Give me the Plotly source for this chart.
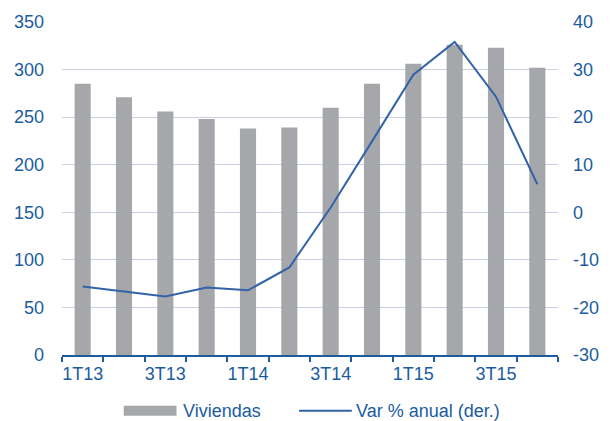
import plotly.graph_objects as go

# Quarterly housing data
quarters = ["1T13", "2T13", "3T13", "4T13", "1T14", "2T14", "3T14", "4T14",
            "1T15", "2T15", "3T15", "4T15"]
viviendas = [285, 271, 256, 248, 238, 239, 260, 285, 306, 326, 323, 302]
var_anual = [-15.6, -16.6, -17.7, -15.8, -16.4, -11.6, 1.0, 14.9, 28.9, 35.8, 24.3, 5.9]
tick_labels = [q if i % 2 == 0 else "" for i, q in enumerate(quarters)]
left_ticks = [0, 50, 100, 150, 200, 250, 300, 350]
right_ticks = [-30, -20, -10, 0, 10, 20, 30, 40]

BLUE_TEXT = "#1b5c9f"
LINE_BLUE = "#3262a8"
BAR_GREY = "#a6a7aa"
GRID = "#c9d0e2"
FONT = "Liberation Sans, Arial, sans-serif"
FS = 18

fig = go.Figure()
fig.add_trace(go.Bar(x=quarters, y=viviendas, name="Viviendas",
                     marker=dict(color=BAR_GREY, line=dict(width=0)),
                     showlegend=False))
fig.add_trace(go.Scatter(x=quarters, y=var_anual, name="Var % anual (der.)",
                         mode="lines", line=dict(color=LINE_BLUE, width=2),
                         yaxis="y2", showlegend=False))

fig.update_layout(
    width=611, height=421,
    margin=dict(l=62, r=51, t=20, b=66),
    paper_bgcolor="white", plot_bgcolor="white",
    font=dict(family=FONT, size=FS, color=BLUE_TEXT),
    bargap=0.61,
    xaxis=dict(type="category", tickvals=quarters, ticktext=tick_labels,
               tickson="boundaries", ticks="outside", ticklen=5, tickwidth=2,
               tickcolor=BLUE_TEXT, showline=True, linecolor=BLUE_TEXT,
               linewidth=2, showgrid=False, tickangle=0,
               range=[-0.5, 11.5], ticklabelstandoff=1),
    yaxis=dict(range=[0, 350], tickvals=left_ticks,
               ticktext=[str(v) for v in left_ticks],
               showgrid=True, gridcolor=GRID,
               gridwidth=1, zeroline=False, showline=False,
               ticks="", ticklabelstandoff=17),
    yaxis2=dict(range=[-30, 40], tickvals=right_ticks,
                ticktext=[str(v) for v in right_ticks],
                overlaying="y", side="right",
                showgrid=False, zeroline=False, showline=False, ticks="",
                ticklabelstandoff=14),
)

# Legend drawn below the plot
fig.add_shape(type="rect", xref="paper", yref="paper",
              x0=(124 - 62) / 498, x1=(177 - 62) / 498,
              y0=-(406 - 355) / 335, y1=-(416 - 355) / 335,
              fillcolor=BAR_GREY, line=dict(width=0))
fig.add_annotation(text="Viviendas", xref="paper", yref="paper",
                   x=(181 - 62) / 498, y=-(411 - 355) / 335,
                   xanchor="left", yanchor="middle", showarrow=False,
                   font=dict(size=FS, color=BLUE_TEXT))
fig.add_shape(type="line", xref="paper", yref="paper",
              x0=(300 - 62) / 498, x1=(353 - 62) / 498,
              y0=-(411 - 355) / 335, y1=-(411 - 355) / 335,
              line=dict(color=LINE_BLUE, width=2))
fig.add_annotation(text="Var % anual (der.)", xref="paper", yref="paper",
                   x=(355 - 62) / 498, y=-(411 - 355) / 335,
                   xanchor="left", yanchor="middle", showarrow=False,
                   font=dict(size=FS, color=BLUE_TEXT))

fig.write_html("out.html")
